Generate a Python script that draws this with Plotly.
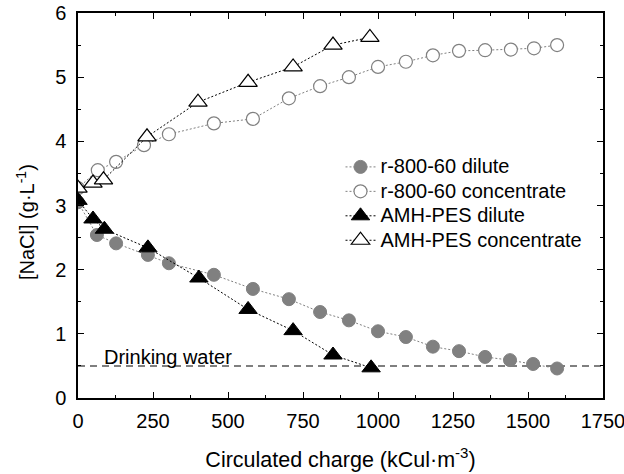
import plotly.graph_objects as go

# r-800-60 dilute
r_dil_x = [0, 63, 127, 233, 303, 453, 583, 703, 807, 903, 1000, 1093, 1183, 1270, 1357, 1440, 1517, 1597]
r_dil_y = [3.05, 2.54, 2.41, 2.23, 2.10, 1.92, 1.70, 1.54, 1.34, 1.21, 1.04, 0.95, 0.80, 0.73, 0.64, 0.59, 0.53, 0.46]
# r-800-60 concentrate
r_con_x = [0, 66, 127, 220, 303, 453, 583, 703, 807, 903, 1000, 1093, 1183, 1270, 1357, 1443, 1520, 1597]
r_con_y = [3.27, 3.55, 3.68, 3.94, 4.11, 4.28, 4.35, 4.67, 4.86, 5.00, 5.16, 5.24, 5.34, 5.41, 5.42, 5.43, 5.45, 5.50]
# AMH-PES dilute
a_dil_x = [0, 50, 88, 233, 403, 567, 717, 850, 977]
a_dil_y = [3.08, 2.79, 2.63, 2.34, 1.87, 1.38, 1.05, 0.67, 0.47]
# AMH-PES concentrate
a_con_x = [0, 50, 85, 230, 400, 567, 717, 850, 973]
a_con_y = [3.27, 3.35, 3.40, 4.07, 4.61, 4.92, 5.16, 5.50, 5.62]

drink_level = 0.5
x_range = [0, 1750]
y_range = [0, 6]

FONT = "Liberation Sans, Arial, sans-serif"
GRAY = "#808080"


def big(t):
    return '<span style="font-size:20px">' + t + '</span>'


fig = go.Figure()
fig.add_trace(go.Scatter(x=x_range, y=[drink_level, drink_level], mode="lines",
                         line=dict(color="#555555", width=1.5, dash="7px,5px"),
                         showlegend=False, hoverinfo="skip"))
fig.add_trace(go.Scatter(x=r_dil_x, y=r_dil_y, mode="lines+markers", name=big("r-800-60 dilute"),
                         line=dict(color=GRAY, width=1, dash="2px,2px"),
                         marker=dict(symbol="circle", size=13, color=GRAY, line=dict(color=GRAY, width=1))))
fig.add_trace(go.Scatter(x=r_con_x, y=r_con_y, mode="lines+markers", name=big("r-800-60 concentrate"),
                         line=dict(color=GRAY, width=1, dash="2px,2px"),
                         marker=dict(symbol="circle", size=13, color="white", line=dict(color=GRAY, width=1.2))))
fig.add_trace(go.Scatter(x=a_dil_x, y=a_dil_y, mode="lines+markers", name=big("AMH-PES dilute"),
                         line=dict(color="black", width=1, dash="2px,2px"),
                         marker=dict(symbol="triangle-up", size=16, color="black", line=dict(color="black", width=1))))
fig.add_trace(go.Scatter(x=a_con_x, y=a_con_y, mode="lines+markers", name=big("AMH-PES concentrate"),
                         line=dict(color="black", width=1, dash="2px,2px"),
                         marker=dict(symbol="triangle-up", size=16, color="white", line=dict(color="black", width=1.2))))

fig.add_annotation(x=80, y=drink_level, text="Drinking water", showarrow=False,
                   xanchor="left", yanchor="bottom", yshift=-4,
                   font=dict(family=FONT, size=20, color="black"))
# y-axis title (placed as rotated text to match its off-centre position)
fig.add_annotation(xref="paper", yref="paper", x=-0.101, y=0.457, text="[NaCl] (g·L<sup>-1</sup>)",
                   textangle=-90, showarrow=False, xanchor="center", yanchor="middle",
                   font=dict(family=FONT, size=20, color="black"))

axis_common = dict(showline=True, linecolor="black", linewidth=1.5, mirror="allticks",
                   ticks="inside", ticklen=6, tickwidth=1, tickcolor="black",
                   showgrid=False, zeroline=False, automargin=False, ticklabeloverflow="allow",
                   tickfont=dict(family=FONT, size=20, color="black"))
fig.update_xaxes(range=x_range, dtick=250, tick0=0, ticklabelstandoff=4,
                 minor=dict(ticks="inside", ticklen=3, dtick=125, tickcolor="black", showgrid=False),
                 title=dict(text="Circulated charge (kCul·m<sup>-3</sup>)", standoff=21,
                            font=dict(family=FONT, size=21.5, color="black")),
                 **axis_common)
fig.update_yaxes(range=y_range, dtick=1, tick0=0, ticklabelstandoff=6,
                 minor=dict(ticks="inside", ticklen=3, dtick=0.5, tickcolor="black", showgrid=False),
                 **axis_common)
fig.update_layout(width=624, height=474, margin=dict(l=78, r=21, t=13, b=76),
                  plot_bgcolor="white", paper_bgcolor="white",
                  legend=dict(x=0.50, y=0.645, xanchor="left", yanchor="top",
                              bgcolor="rgba(0,0,0,0)", tracegroupgap=0, itemsizing="trace",
                              font=dict(family=FONT, size=16.5, color="black")))
fig.write_html("out.html", config={"displayModeBar": False},
               post_script="document.body.style.margin='0';")
